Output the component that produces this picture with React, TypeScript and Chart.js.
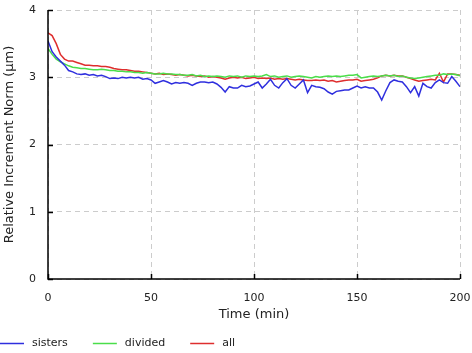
import React, { useEffect, useRef } from 'react';
import { Chart, registerables } from 'chart.js';
Chart.register(...registerables);

const times = [
  0, 2, 4, 6, 8, 10, 12, 14, 16, 18, 20, 22, 24, 26, 28, 30, 32, 34, 36, 38,
  40, 42, 44, 46, 48, 50, 52, 54, 56, 58, 60, 62, 64, 66, 68, 70, 72, 74, 76, 78,
  80, 82, 84, 86, 88, 90, 92, 94, 96, 98, 100, 102, 104, 106, 108, 110, 112, 114, 116, 118,
  120, 122, 124, 126, 128, 130, 132, 134, 136, 138, 140, 142, 144, 146, 148, 150, 152, 154, 156, 158,
  160, 162, 164, 166, 168, 170, 172, 174, 176, 178, 180, 182, 184, 186, 188, 190, 192, 194, 196, 198, 200,
];

const sisters = [
  3.54, 3.38, 3.30, 3.24, 3.18, 3.10, 3.08, 3.05, 3.04, 3.05, 3.03, 3.04, 3.02, 3.03, 3.01, 2.98, 2.99, 2.98, 3.00, 2.99,
  3.00, 2.99, 3.00, 2.97, 2.98, 2.96, 2.91, 2.93, 2.95, 2.93, 2.90, 2.92, 2.91, 2.92, 2.91, 2.88, 2.91, 2.93, 2.93, 2.92,
  2.93, 2.90, 2.85, 2.78, 2.86, 2.84, 2.84, 2.88, 2.86, 2.87, 2.90, 2.93, 2.84, 2.90, 2.97, 2.88, 2.84, 2.92, 2.98, 2.88,
  2.84, 2.90, 2.96, 2.77, 2.88, 2.86, 2.85, 2.83, 2.78, 2.75, 2.79, 2.80, 2.81, 2.81, 2.84, 2.87, 2.84, 2.86, 2.84, 2.84,
  2.78, 2.66, 2.80, 2.92, 2.96, 2.94, 2.93, 2.86, 2.77, 2.86, 2.72, 2.91, 2.86, 2.84, 2.92, 2.96, 2.92, 2.91, 3.01, 2.94, 2.86,
];

const divided = [
  3.43, 3.34, 3.27, 3.23, 3.20, 3.17, 3.15, 3.14, 3.13, 3.13, 3.12, 3.11, 3.11, 3.12, 3.11, 3.10, 3.10, 3.09, 3.09, 3.08,
  3.08, 3.07, 3.07, 3.06, 3.07, 3.06, 3.05, 3.05, 3.06, 3.05, 3.05, 3.04, 3.04, 3.03, 3.03, 3.04, 3.02, 3.03, 3.01, 3.02,
  3.01, 3.02, 3.01, 3.00, 3.02, 3.01, 3.02, 3.00, 3.02, 3.01, 3.02, 3.01, 3.02, 3.04, 3.01, 3.02, 3.00, 3.01, 3.02, 3.00,
  3.01, 3.02, 3.01, 3.00, 2.99, 3.01, 3.00, 3.01, 3.02, 3.01, 3.02, 3.01, 3.02, 3.03, 3.03, 3.04, 2.99, 3.00, 3.01, 3.02,
  3.01, 3.02, 3.03, 3.02, 3.03, 3.01, 3.02, 3.00, 2.99, 2.98, 2.99, 3.00, 3.01, 3.02, 3.03, 3.03, 3.05, 3.04, 3.05, 3.04, 3.02,
];

const all = [
  3.66, 3.62, 3.50, 3.34, 3.27, 3.24, 3.24, 3.22, 3.20, 3.18, 3.18, 3.17, 3.17, 3.16, 3.16, 3.15, 3.13, 3.12, 3.11, 3.11,
  3.10, 3.09, 3.09, 3.08, 3.07, 3.06, 3.05, 3.06, 3.04, 3.05, 3.04, 3.03, 3.04, 3.03, 3.02, 3.03, 3.02, 3.01, 3.02, 3.00,
  3.01, 3.00, 2.99, 2.97, 2.99, 3.00, 2.99, 3.00, 2.98, 2.99, 3.00, 2.98, 2.99, 2.98, 2.99, 2.97, 2.98, 2.97, 2.98, 2.97,
  2.96, 2.97, 2.96, 2.95, 2.95, 2.96, 2.95, 2.96, 2.94, 2.95, 2.93, 2.94, 2.95, 2.96, 2.96, 2.97, 2.94, 2.95, 2.96, 2.97,
  2.99, 3.02, 3.03, 3.02, 3.03, 3.02, 3.02, 3.00, 2.98, 2.96, 2.94, 2.95, 2.96, 2.97, 2.96, 3.06, 2.93, 3.05, 3.05, 3.04, 3.03,
];

const seriesLabels = ['sisters', 'divided', 'all'];
const seriesColors = ['#2f2fde', '#4ade4a', '#de2e2e'];
const xTitle = 'Time (min)';
const yTitle = 'Relative Increment Norm (\u03bcm)';

const FONT = '"DejaVu Sans", Verdana, sans-serif';

const inwardTicks = {
  id: 'inwardTicks',
  afterDraw(chart: any) {
    const { ctx, chartArea, scales } = chart;
    ctx.save();
    ctx.strokeStyle = '#000';
    ctx.lineWidth = 1.5;
    scales.x.ticks.forEach((t: any) => {
      const px = Math.round(scales.x.getPixelForValue(t.value)) + 0.5;
      ctx.beginPath();
      ctx.moveTo(px, chartArea.bottom);
      ctx.lineTo(px, chartArea.bottom - 5);
      ctx.stroke();
    });
    scales.y.ticks.forEach((t: any) => {
      const py = Math.round(scales.y.getPixelForValue(t.value)) + 0.5;
      ctx.beginPath();
      ctx.moveTo(chartArea.left, py);
      ctx.lineTo(chartArea.left + 5, py);
      ctx.stroke();
    });
    ctx.beginPath();
    ctx.moveTo(chartArea.left, chartArea.top);
    ctx.lineTo(chartArea.left, chartArea.bottom);
    ctx.lineTo(chartArea.right, chartArea.bottom);
    ctx.stroke();
    ctx.restore();
  },
};

const bottomLegend = {
  id: 'bottomLegend',
  afterDraw(chart: any) {
    const { ctx } = chart;
    ctx.save();
    ctx.font = '11px ' + FONT;
    ctx.textBaseline = 'middle';
    ctx.textAlign = 'left';
    const y = chart.height - 10;
    let x = 0;
    chart.data.datasets.forEach((ds: any) => {
      ctx.strokeStyle = ds.borderColor;
      ctx.lineWidth = 1.5;
      ctx.beginPath();
      ctx.moveTo(x, y + 0.5);
      ctx.lineTo(x + 24, y + 0.5);
      ctx.stroke();
      ctx.fillStyle = '#222';
      ctx.fillText(ds.label, x + 32, y);
      x += 32 + ctx.measureText(ds.label).width + 25;
    });
    ctx.restore();
  },
};

export default function App() {
  const ref = useRef<HTMLCanvasElement>(null);
  useEffect(() => {
    document.body.style.margin = '0';
    const seriesValues = [sisters, divided, all];
    const chart = new Chart(ref.current as HTMLCanvasElement, {
      type: 'line',
      data: {
        datasets: seriesLabels.map((label, i) => ({
          label,
          data: times.map((t, j) => ({ x: t, y: seriesValues[i][j] })),
          borderColor: seriesColors[i],
          backgroundColor: seriesColors[i],
          borderWidth: 1.5,
          pointRadius: 0,
          tension: 0,
          fill: false,
        })),
      },
      options: {
        responsive: false,
        animation: false,
        layout: { padding: { left: 0, right: 12, top: 10, bottom: 30 } },
        plugins: { legend: { display: false }, tooltip: { enabled: false } },
        scales: {
          x: {
            type: 'linear',
            min: 0,
            max: 200,
            afterFit: (s: any) => { s.height = 44; },
            ticks: { stepSize: 50, padding: 0, color: '#222', font: { family: FONT, size: 11 }, maxRotation: 0 },
            grid: { color: '#cccccc', lineWidth: 1, drawTicks: true, tickLength: 13, tickColor: 'rgba(0,0,0,0)' },
            border: { display: false, dash: [5, 4] },
            title: { display: true, text: xTitle, color: '#222', font: { family: FONT, size: 13 }, padding: { top: 0, bottom: 1 } },
          },
          y: {
            min: 0,
            max: 4,
            afterFit: (s: any) => { s.width = 48; },
            ticks: { stepSize: 1, padding: 0, color: '#222', font: { family: FONT, size: 11 } },
            grid: { color: '#cccccc', lineWidth: 1, drawTicks: true, tickLength: 12, tickColor: 'rgba(0,0,0,0)' },
            border: { display: false, dash: [5, 4] },
            title: { display: true, text: yTitle, color: '#222', font: { family: FONT, size: 13 }, padding: { top: 2, bottom: 0 } },
          },
        },
      },
      plugins: [inwardTicks, bottomLegend],
    });
    return () => chart.destroy();
  }, []);
  return (
    <div style={{ width: 472, height: 353 }}>
      <canvas ref={ref} width={472} height={353} />
    </div>
  );
}
